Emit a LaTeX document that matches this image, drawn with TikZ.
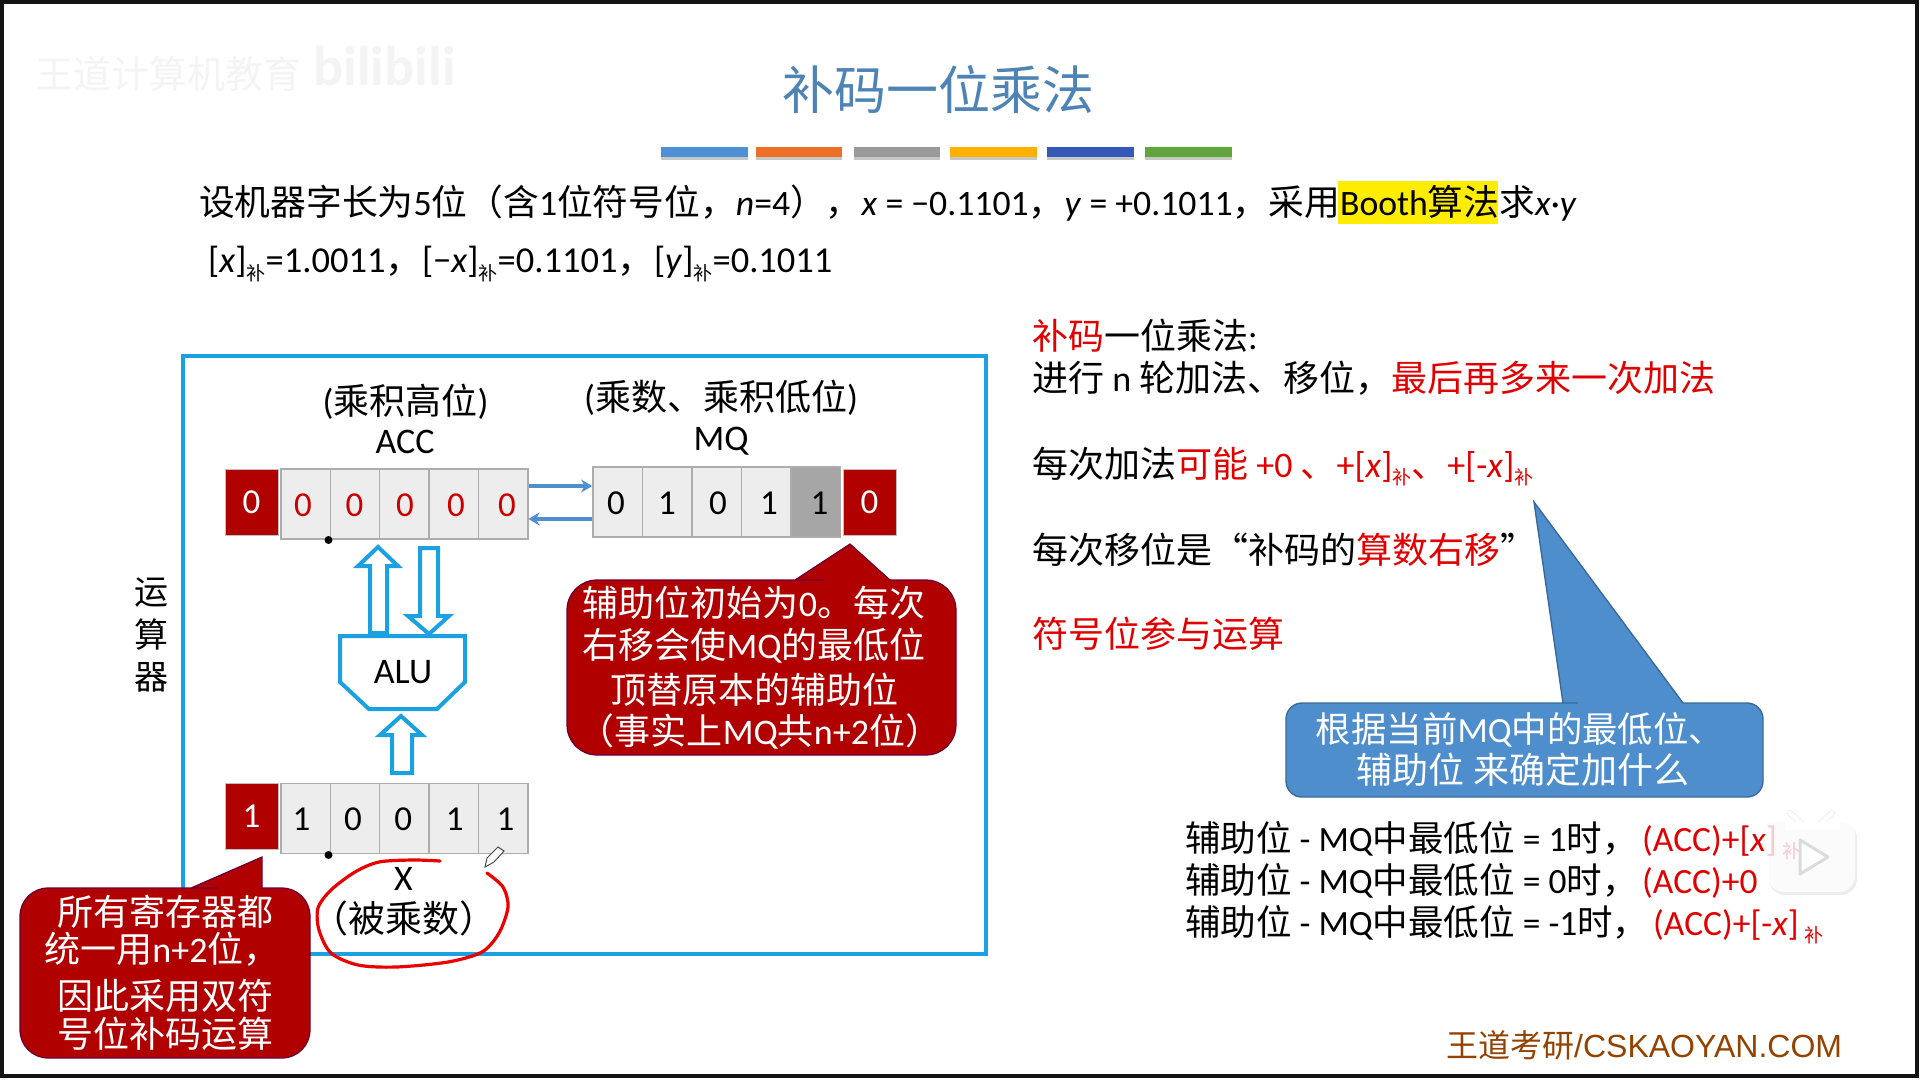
\documentclass[tikz,border=0pt]{standalone}
\usepackage{fontspec}
\setmainfont{Carlito}
\newfontfamily\cjk{Noto Sans CJK SC}
\newfontfamily\arl{Liberation Sans}
\usetikzlibrary{calc,arrows.meta}
\newcommand\Z[1]{{\cjk #1}}
\newcommand\fs[1]{\fontsize{#1pt}{#1pt}\selectfont}
\newcommand\Bu{\raisebox{-.22em}{\cjk\fs{19}补}}
\definecolor{wdred}{HTML}{B00000}
\definecolor{frameblue}{HTML}{1BA1E2}
\definecolor{linkblue}{HTML}{4F8FD0}
\definecolor{slideblue}{HTML}{5B9BD5}
\definecolor{calloutblue}{HTML}{4F8ECD}
\definecolor{txtred}{HTML}{E00000}
\definecolor{wm}{HTML}{F4F4F4}
\tikzset{
  x=1pt,y=-1pt,
  txt/.style={inner sep=0pt,anchor=base west,font=\fs{36}},
  tbl/.style={inner sep=0pt,anchor=base west,font=\fs{35.5}},
  ctr/.style={inner sep=0pt,anchor=base,font=\fs{36}},
  wtxt/.style={inner sep=0pt,anchor=base,font=\fs{36},text=white},
  cell/.style={draw=black!32,line width=1.4pt,fill=black!7,minimum width=49.4pt,minimum height=70pt,inner sep=0pt},
  signbox/.style={fill=wdred,draw=black!25,line width=.6pt,minimum width=53pt,minimum height=66pt,inner sep=0pt,text=white,font=\fs{35}},
  digit/.style={inner sep=0pt,font=\fs{35}},
  blockarrow/.style={draw=frameblue,line width=4pt,fill=white,line join=miter},
  link/.style={draw=linkblue,line width=3.2pt,-{Stealth[length=11pt,width=13pt]}},
  callred/.style={fill=wdred,draw=black!40!violet!70!wdred,line width=1.2pt},
  callblue/.style={fill=calloutblue,draw=calloutblue!75!black,line width=1.4pt},
}
\begin{document}
\begin{tikzpicture}
\useasboundingbox (0,0) rectangle (1920,1080);
\fill[white] (0,0) rectangle (1920,1080);
% video frame
\draw[draw=black!92,line width=4.5pt] (2,2) rectangle (1917,1076);
% watermark
\node[inner sep=0pt,anchor=west,text=wm,font=\cjk\fs{38}] (wm1) at (35,74) {王道计算机教育};
\node[inner sep=0pt,anchor=west,text=wm,font=\bfseries\fs{56}] (wm2) at (313,66) {bilibili};
% title
\node[inner sep=0pt,text=slideblue!85!black,font=\cjk\fs{52}] (title) at (938,90) {补码一位乘法};
\foreach \a/\b/\c in {661/748/4F8FD5,756/842/EE7028,854/940/9A9A9A,950/1037/FFB000,1047/1134/3558B8,1145/1232/62A53C}{
  \definecolor{tmp}{HTML}{\c}
  \fill[black!22] (\a,150) rectangle (\b,160);
  \fill[tmp] (\a,147) rectangle (\b,157);
}
% statement
\fill[yellow!95!orange] (1338,181) rectangle (1498,224);
\node[txt,font=\fs{35.75}] (l1) at (199,215) {\Z{设机器字长为}5\Z{位（含}1\Z{位符号位，}\textit{n}=4\Z{），}\textit{x} = −0.1101\Z{，}\textit{y} = +0.1011\Z{，采用}Booth\Z{算法求}\textit{x}·\textit{y}};
\node[txt,font=\fs{36.5}] (l2) at (208,272) {[\textit{x}]\Bu=1.0011\Z{，}[−\textit{x}]\Bu=0.1101\Z{，}[\textit{y}]\Bu=0.1011};
% right column
\node[txt] (r1) at (1032,349) {\textcolor{txtred}{\Z{补码}}\Z{一位乘法}:};
\node[txt] (r2) at (1032,391) {\Z{进行} n \Z{轮加法、移位，}\textcolor{txtred}{\Z{最后再多来一次加法}}};
\node[txt] (r3) at (1032,477) {\Z{每次加法}\textcolor{txtred}{\Z{可能} +0 \Z{、}+[\textit{x}]\Bu\Z{、}+[-\textit{x}]\Bu}};
\node[txt] (r4) at (1032,563) {\Z{每次移位是“补码的}\textcolor{txtred}{\Z{算数右移}}\Z{”}};
\node[txt,text=txtred] (r5) at (1032,647) {\Z{符号位参与运算}};
% datapath frame
\node[draw=frameblue,line width=4pt,outer sep=0pt,minimum width=803pt,minimum height=598pt,inner sep=0pt,anchor=north west] (alubox) at (183,356) {};
\node[inner sep=0pt,font=\cjk\fs{34}] (yun) at (151,593) {运};
\node[inner sep=0pt,font=\cjk\fs{34}] (suan) at (151,635) {算};
\node[inner sep=0pt,font=\cjk\fs{34}] (qi) at (151,677) {器};
\node[ctr] at (405.5,414) (hi) {(\Z{乘积高位})};
\node[ctr] at (405,453) (acclabel) {ACC};
\node[ctr] at (721,410) (lo) {(\Z{乘数、乘积低位})};
\node[ctr] at (721,450) (mqlabel) {MQ};
% ACC
\node[signbox] (accs) at (251.5,502) {0};
\foreach \i/\x/\dx in {1/305.5/-2.5,2/354.9/-.4,3/404.3/.7,4/453.7/2.3,5/503.1/3.9}{
  \node[cell,label={[digit,text=txtred!90!black,xshift=\dx pt,yshift=-1pt]center:0}] (a\i) at (\x,504) {};
}
% MQ
\foreach \i/\x/\d/\dx in {1/617.5/0/-1.5,2/667/1/0,3/716.5/0/1.5,4/766/1/3}{
  \node[cell,label={[digit,xshift=\dx pt,yshift=-1pt]center:\d}] (m\i) at (\x,502) {};
}
\node[cell,fill=black!35,label={[digit,xshift=4pt,yshift=-1pt]center:1}] (m5) at (815.5,502) {};
\node[signbox] (mqs) at (869.5,502) {0};
\draw[link] (a5.east |- 0,486) -- (m1.west |- 0,486);
\draw[link] (m1.west |- 0,519) -- (a5.east |- 0,519);
\fill (328.5,540) circle (4pt);
% X register
\node[signbox,text depth=0pt] (xs) at (251.5,816) {1};
\foreach \i/\x/\d/\dx in {1/305.5/1/-4,2/354.9/0/-2,3/404.3/0/-1,4/453.7/1/1,5/503.1/1/2.5}{
  \node[cell,label={[digit,xshift=\dx pt,yshift=-1pt]center:\d}] (x\i) at (\x,818.5) {};
}
\fill (328.5,855) circle (4pt);
\node[ctr] at (403.5,890) (xlabel) {X};
\node[ctr,font=\fs{37}] at (404,932) (xname) {\Z{（被乘数）}};
% ALU
\draw[blockarrow] (340,636) -- (465,636) -- (465,682) -- (437,709) -- (369,709) -- (340,682) -- cycle;
\node[inner sep=0pt,font=\fs{36}] (alu) at (403,672) {ALU};
\draw[blockarrow] (378,547) -- (398,566) -- (387,566) -- (387,633) -- (370,633) -- (370,566) -- (358,566) -- cycle;
\draw[blockarrow] (429,634) -- (449,616) -- (438,616) -- (438,548) -- (420,548) -- (420,616) -- (408,616) -- cycle;
\draw[blockarrow] (401,716) -- (422,735) -- (412,735) -- (412,773) -- (392,773) -- (392,735) -- (380,735) -- cycle;
% handwritten ellipse
\draw[draw=red!92!black,line width=3.2pt,line cap=round] plot[smooth] coordinates {(440,861) (413,860) (379,862) (355,872) (331,890) (318,908) (319,930) (331,953) (358,965) (396,967) (448,962) (482,952) (499,933) (508,907) (503,887) (487,873)};
% pen cursor
\draw[draw=black!70,fill=white,line width=1pt] (485,867) -- (487,858) -- (498,847) -- (504,851) -- (494,862) -- cycle;
% callout MQ
\draw[callred] (795,580) -- (850,544) -- (890,580) -- (891,580) [rounded corners=30pt] -- (956,580) -- (956,755) -- (567,755) -- (567,580) -- (794,580) [sharp corners] -- cycle;
\node[wtxt] (c1) at (754,616) {\Z{辅助位初始为}0\Z{。每次}};
\node[wtxt] (c2) at (754,658) {\Z{右移会使}MQ\Z{的最低位}};
\node[wtxt] (c3) at (754,703) {\Z{顶替原本的辅助位}};
\node[wtxt] (c4) at (760,744) {\Z{（事实上}MQ\Z{共}n+2\Z{位）}};
% callout registers
\draw[callred] (191,888) -- (262,857) -- (262,888) -- (263,888) [rounded corners=28pt] -- (310,888) -- (310,1058) -- (20,1058) -- (20,888) -- (190,888) [sharp corners] -- cycle;
\node[wtxt] (d1) at (165,925) {\Z{所有寄存器都}};
\node[wtxt] (d2) at (162,962) {\Z{统一用}n+2\Z{位，}};
\node[wtxt] (d3) at (165,1009) {\Z{因此采用双符}};
\node[wtxt] (d4) at (165,1047) {\Z{号位补码运算}};
% callout blue
\draw[callblue] (1563,703) -- (1534,502) -- (1683,703) -- (1684,703) [rounded corners=16pt] -- (1763,703) -- (1763,797) -- (1286,797) -- (1286,703) -- (1562,703) [sharp corners] -- cycle;
\node[wtxt,font=\fs{35.4}] (b1) at (1520,742) {\Z{根据当前}MQ\Z{中的最低位、}};
\node[wtxt] (b2) at (1523,783) {\Z{辅助位 来确定加什么}};
% rule table
\node[tbl] (t1) at (1185,851) {\Z{辅助位} - MQ\Z{中最低位} = 1\Z{时，}};
\node[tbl,text=txtred] (t1r) at (1642,851) {(ACC)+[\textit{x}]\,\Bu};
\node[tbl] (t2) at (1185,893) {\Z{辅助位} - MQ\Z{中最低位} = 0\Z{时，}};
\node[tbl,text=txtred] (t2r) at (1642,893) {(ACC)+0};
\node[tbl] (t3) at (1185,935) {\Z{辅助位} - MQ\Z{中最低位} = -1\Z{时，}};
\node[tbl,text=txtred] (t3r) at (1653,935) {(ACC)+[-\textit{x}]\,\Bu};
% player overlay
\fill[black,opacity=.07] (1769,822) [rounded corners=16pt] -- (1857,822) -- (1857,895) -- (1769,895) -- (1769,821) [sharp corners] -- cycle;
\fill[white,opacity=.8] (1768,818) [rounded corners=16pt] -- (1855,818) -- (1855,892) -- (1768,892) -- (1768,817) [sharp corners] -- cycle;
\draw[black!8,line width=6pt,line cap=round] (1790,813) -- (1802,824) (1832,813) -- (1820,824);
\draw[white,line width=4.5pt,line cap=round] (1790,813) -- (1802,824) (1832,813) -- (1820,824);
\fill[white] (1785,822) rectangle (1840,830);
\draw[black!14,fill=white,line width=3pt,line join=round] (1800,840) -- (1828,857) -- (1800,874) -- cycle;
% footer
\node[txt,text=orange!55!black!95!red,font=\fs{32}] (foot) at (1446,1057) {\Z{王道考研}{\arl /CSKAOYAN.COM}};
\end{tikzpicture}
\end{document}
